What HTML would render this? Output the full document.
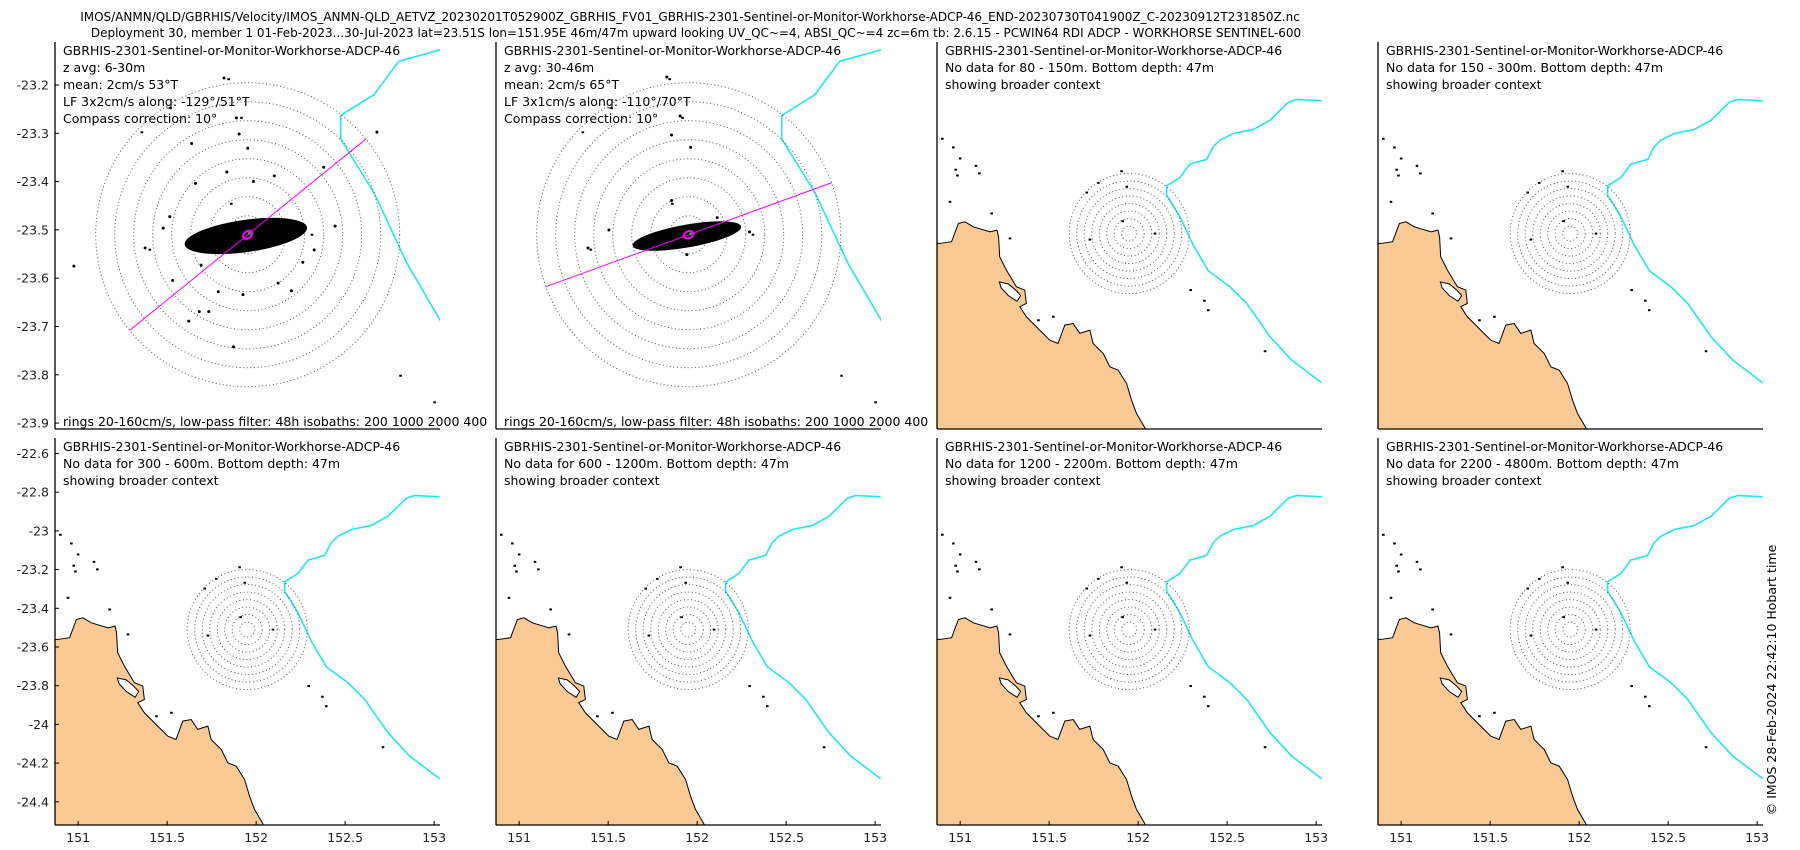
<!DOCTYPE html>
<html><head><meta charset="utf-8"><style>
html,body{margin:0;padding:0;background:#fff;}
svg{display:block;font-family:"DejaVu Sans","Liberation Sans",sans-serif;}
</style></head><body>
<svg id="fig" width="1800" height="850" viewBox="0 0 1800 850" xmlns="http://www.w3.org/2000/svg">
<text x="690" y="21" font-size="12" text-anchor="middle">IMOS/ANMN/QLD/GBRHIS/Velocity/IMOS_ANMN-QLD_AETVZ_20230201T052900Z_GBRHIS_FV01_GBRHIS-2301-Sentinel-or-Monitor-Workhorse-ADCP-46_END-20230730T041900Z_C-20230912T231850Z.nc</text>
<text x="696" y="37" font-size="12" text-anchor="middle">Deployment 30, member 1 01-Feb-2023...30-Jul-2023 lat=23.51S lon=151.95E 46m/47m upward looking UV_QC~=4, ABSI_QC~=4 zc=6m tb: 2.6.15 - PCWIN64 RDI ADCP - WORKHORSE SENTINEL-600</text>
<text transform="translate(1776,680) rotate(-90)" font-size="12.5" text-anchor="middle">© IMOS 28-Feb-2024 22:42:10 Hobart time</text>
</svg>
<script>
// ---- data ----
const stationLon = 151.95, stationLat = -23.51;
const ringSpeeds = [20,40,60,80,100,120,140,160];
const meanBearings = [53, 65];
const alongBearings = [51, 70];
const cloudMajor = [65, 58];
const cloudMinor = [17, 12];
const cloudTilt = [8, 10];
// outlier velocity samples (cm/s), panel 1
const u1 = [-25,-12,-9,-59,0,80,-22,28,-55,6,-82,-89,92,70,-108,-79,-49,58,32,-5,-31,46,-51,-41,-62,-15,-183,136];
const v1 = [165,123,106,96,91,71,66,62,54,56,19,7,9,-16,-14,-48,-32,-29,-51,-63,-60,-59,-81,-81,-91,-118,-33,108];
// outlier velocity samples (cm/s), panel 2
const u2 = [-23,-9,-18,2,-18,-84,-106,64,-2,30,-40];
const v2 = [166,125,105,92,36,5,-14,3,-21,18,-10];
// 200 m isobath
const isoLon = [153.031,152.891,152.844,152.741,152.647,152.535,152.460,152.422,152.385,152.291,152.235,152.160,152.160,152.235,152.310,152.394,152.516,152.610,152.741,152.863,153.031];
const isoLat = [-22.824,-22.817,-22.831,-22.924,-22.972,-22.993,-23.027,-23.061,-23.127,-23.151,-23.220,-23.263,-23.312,-23.423,-23.570,-23.702,-23.785,-23.871,-24.043,-24.164,-24.281];
// coastline (mainland)
const coastLon = [150.80,150.887,150.952,150.990,151.027,151.074,151.168,151.207,151.216,151.222,151.260,151.316,151.363,151.372,151.335,151.372,151.447,151.504,151.550,151.588,151.635,151.672,151.729,151.747,151.804,151.841,151.888,151.935,151.963,151.991,152.038,152.06,150.80];
const coastLat = [-23.561,-23.561,-23.552,-23.458,-23.449,-23.475,-23.501,-23.492,-23.527,-23.630,-23.699,-23.785,-23.802,-23.871,-23.888,-23.940,-24.009,-24.061,-24.078,-23.983,-23.975,-24.026,-24.009,-24.078,-24.130,-24.199,-24.216,-24.285,-24.371,-24.440,-24.514,-24.60,-24.60];
const inletLon = [151.22,151.27,151.31,151.34,151.32,151.27,151.23];
const inletLat = [-23.76,-23.77,-23.80,-23.83,-23.86,-23.83,-23.79];
const reefLon = [151.711,151.776,151.936,151.907,151.913,152.095,151.729,152.295,152.372,152.394,152.713,150.962,151.089,151.108,151.000,151.177,151.280,150.943,151.524,151.440,150.90,150.975,150.985];
const reefLat = [-23.298,-23.248,-23.268,-23.188,-23.446,-23.510,-23.541,-23.802,-23.857,-23.906,-24.118,-23.065,-23.160,-23.199,-23.122,-23.406,-23.535,-23.346,-23.940,-23.958,-23.02,-23.18,-23.21];
const latTicksZoom = [-23.2,-23.3,-23.4,-23.5,-23.6,-23.7,-23.8,-23.9];
const latTicksWide = [-22.6,-22.8,-23,-23.2,-23.4,-23.6,-23.8,-24,-24.2,-24.4];
const lonTicks = [151,151.5,152,152.5,153];
const depthRanges = ["6-30m","30-46m","80 - 150m","150 - 300m","300 - 600m","600 - 1200m","1200 - 2200m","2200 - 4800m"];
const lfAmp = ["3x2cm/s","3x1cm/s"];
const lfAlong = ["-129°/51°T","-110°/70°T"];

// ---- layout ----
const svg = document.getElementById('fig');
const NS = 'http://www.w3.org/2000/svg';
const colX = [55,496,937,1378], rowY = [42,438], PW = 385, PH = 387;
function mk(tag, attrs, parent){const e=document.createElementNS(NS,tag);for(const k in attrs)e.setAttribute(k,attrs[k]);(parent||svg).appendChild(e);return e;}
const defs = mk('defs',{});

for(let r=0;r<2;r++)for(let c=0;c<4;c++){
  const idx=r*4+c, px=colX[c], py=rowY[r];
  const zoomed = idx<2;
  const kx = zoomed?443:178, ky = zoomed?483:193.5;
  const lon0 = zoomed?151.515:150.87, lat0 = zoomed?-23.111:-22.52;
  const X = lon=>px+(lon-lon0)*kx;
  const Y = lat=>py+(lat0-lat)*ky;
  const cp = mk('clipPath',{id:'cp'+idx},defs);
  mk('rect',{x:px,y:py,width:PW,height:PH},cp);
  const g = mk('g',{});
  
  
  const gc = mk('g',{'clip-path':'url(#cp'+idx+')'},g);
  const land = mk('polygon',{points:coastLon.map((l,i)=>X(l)+','+Y(coastLat[i])).join(' '),fill:'#fbc993',stroke:'#000','stroke-width':1},gc);
  
  
  const inl = mk('polygon',{points:inletLon.map((l,i)=>X(l)+','+Y(inletLat[i])).join(' '),fill:'#fff',stroke:'#000','stroke-width':1},gc);
  
  
  reefLon.forEach((l,i)=>{
    const d=mk('rect',{x:X(l)-1.3,y:Y(reefLat[i])-1,width:2.6,height:2,fill:'#000'},gc);
    
    
  });
  const iso = mk('polyline',{points:isoLon.map((l,i)=>X(l)+','+Y(isoLat[i])).join(' '),fill:'none',stroke:'#22e6ee','stroke-width':1.6},gc);
  
  
  const cx=X(stationLon), cy=Y(stationLat);
  const pxPerCm = zoomed?0.95:0.375;
  ringSpeeds.forEach(s=>{
    const rg=mk('circle',{cx:cx,cy:cy,r:s*pxPerCm,fill:'none',stroke:'#555','stroke-width':1,'stroke-dasharray':'1 2.6'},gc);
    
    
  });
  if(zoomed){
    const cl = mk('ellipse',{cx:cx-2,cy:cy+1,rx:cloudMajor[idx]*pxPerCm,ry:cloudMinor[idx]*pxPerCm,fill:'#000',transform:`rotate(${-cloudTilt[idx]} ${cx} ${cy})`},gc);
    
    
    const uu = idx===0?u1:u2, vv = idx===0?v1:v2;
    uu.forEach((u,i)=>{
      const p=mk('circle',{cx:cx+u*pxPerCm,cy:cy-vv[i]*pxPerCm,r:1.5,fill:'#000'},gc);
      
      
    });
    const b = alongBearings[idx]*Math.PI/180, L = 160*pxPerCm;
    const ln=mk('line',{x1:cx-Math.sin(b)*L,y1:cy+Math.cos(b)*L,x2:cx+Math.sin(b)*L,y2:cy-Math.cos(b)*L,stroke:'#ff00ff','stroke-width':1},gc);
    
    
    const mb = meanBearings[idx]*Math.PI/180;
    const el=mk('ellipse',{cx:cx,cy:cy,rx:5,ry:3.5,fill:'none',stroke:'#ff00ff','stroke-width':2,transform:`rotate(${-(90-alongBearings[idx])} ${cx} ${cy})`},gc);
    
    
    const mv=mk('circle',{cx:cx+Math.sin(mb)*2,cy:cy-Math.cos(mb)*2,r:1.6,fill:'#22aa33'},gc);
    
    
  }
  mk('line',{x1:px,y1:py,x2:px,y2:py+PH,stroke:'#000','stroke-width':1.3},g);
  mk('line',{x1:px,y1:py+PH,x2:px+PW,y2:py+PH,stroke:'#000','stroke-width':1.3},g);
  if(c===0){
    const ticks = (r===0)?latTicksZoom:latTicksWide;
    ticks.forEach(t=>{
      const y=Y(t);
      mk('line',{x1:px,y1:y,x2:px+4,y2:y,stroke:'#000'},g);
      const tl=mk('text',{x:px-6,y:y+4.5,'font-size':12.5,'text-anchor':'end',fill:'#222'},g);
      tl.textContent=String(t);
      
      
    });
  }
  if(r===1){
    lonTicks.forEach(t=>{
      const x=X(t);
      mk('line',{x1:x,y1:py+PH,x2:x,y2:py+PH-4,stroke:'#000'},g);
      const tl=mk('text',{x:x,y:py+PH+17,'font-size':12.5,'text-anchor':'middle',fill:'#222'},g);
      tl.textContent=String(t);
      
      
    });
  }
  const lines = zoomed ?
    ['GBRHIS-2301-Sentinel-or-Monitor-Workhorse-ADCP-46','z avg: '+depthRanges[idx],'mean: 2cm/s '+meanBearings[idx]+'°T','LF '+lfAmp[idx]+' along: '+lfAlong[idx],'Compass correction: 10°'] :
    ['GBRHIS-2301-Sentinel-or-Monitor-Workhorse-ADCP-46','No data for '+depthRanges[idx]+'. Bottom depth: 47m','showing broader context'];
  lines.forEach((s,i)=>{
    const t=mk('text',{x:px+8,y:py+13+i*17,'font-size':12.5,fill:'#000'},g);
    t.textContent=s;
    
    
  });
  if(zoomed){
    const cpt=mk('clipPath',{id:'ct'+idx},defs);
    mk('rect',{x:px,y:py,width:432,height:PH},cpt);
    const t=mk('text',{x:px+8,y:py+PH-3,'font-size':12.5,fill:'#000','clip-path':'url(#ct'+idx+')'},g);
    t.textContent='rings 20-160cm/s, low-pass filter: 48h isobaths: 200 1000 2000 4000';
    
    
  }
}
</script>
</body></html>
